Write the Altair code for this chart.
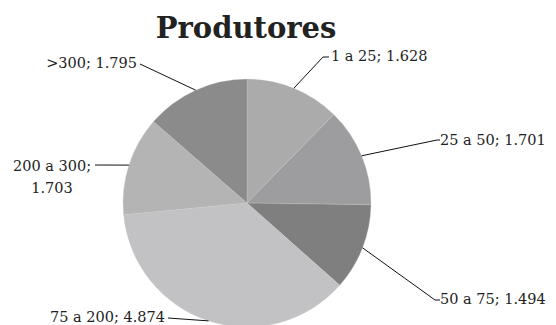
import altair as alt
import pandas as pd

# ---- data ----
categories = ["1 a 25", "25 a 50", "50 a 75", "75 a 200", "200 a 300", ">300"]
values = [1628, 1701, 1494, 4874, 1703, 1795]
value_labels = ["1.628", "1.701", "1.494", "4.874", "1.703", "1.795"]

# ---- styles / layout ----
colors = ["#ababab", "#9d9d9f", "#7f7f7f", "#c2c2c4", "#b4b4b4", "#8b8b8b"]
CX, CY, R = 239, 150, 124
elbow_x = [315, 429, 427, 160, 87, 132]
elbow_y = [4, 87, 247, 265, 112, 11]
text_x = [323, 432, 432, 157, 44, 129]
text_y = [4, 88, 247, 265, 114, 11]
text_align = ["left", "left", "left", "right", "center", "right"]
hook_x = [321, 432, 432, 160, 87, 132]

label_text = []
for c, v in zip(categories, value_labels):
    if c == "200 a 300":
        label_text.append(f"{c};\n{v}")
    else:
        label_text.append(f"{c}; {v}")

df = pd.DataFrame({
    "cat": categories,
    "val": values,
    "ord": list(range(len(categories))),
    "label": label_text,
    "elbow_x": elbow_x,
    "elbow_y": elbow_y,
    "hook_x": hook_x,
    "text_x": text_x,
    "text_y": text_y,
    "align": text_align,
})

base = alt.Chart(df)

pie = base.mark_arc(radius=R, stroke="#d0d0d0", strokeWidth=0.3).encode(
    theta=alt.Theta("val:Q", stack=True),
    order=alt.Order("ord:Q"),
    color=alt.Color("cat:N", scale=alt.Scale(domain=categories, range=colors), legend=None),
    x=alt.value(CX),
    y=alt.value(CY),
)

geo = base.transform_joinaggregate(total="sum(val)").transform_window(
    cum="sum(val)", sort=[alt.SortField("ord")], frame=[None, 0]
).transform_calculate(
    mid="(datum.cum - datum.val/2)/datum.total*2*PI",
).transform_calculate(
    ex=f"{CX} + {R}*sin(datum.mid)",
    ey=f"{CY} - {R}*cos(datum.mid)",
)

leader = geo.mark_rule(color="#111", strokeWidth=1).encode(
    x=alt.X("ex:Q", scale=None),
    y=alt.Y("ey:Q", scale=None),
    x2="elbow_x:Q",
    y2="elbow_y:Q",
)

hook = base.mark_rule(color="#111", strokeWidth=1).encode(
    x=alt.X("elbow_x:Q", scale=None),
    y=alt.Y("elbow_y:Q", scale=None),
    x2="hook_x:Q",
)

def text_layer(align):
    return base.transform_filter(f"datum.align == '{align}'").mark_text(
        font="DejaVu Serif", fontSize=14.5, color="#222", align=align,
        baseline="middle", lineBreak="\n", lineHeight=22,
    ).encode(
        x=alt.X("text_x:Q", scale=None),
        y=alt.Y("text_y:Q", scale=None),
        text="label:N",
    )

chart = alt.layer(
    pie, leader, hook, text_layer("left"), text_layer("right"), text_layer("center")
).properties(
    width=540,
    height=272,
    padding={"left": 0, "top": 45, "right": 0, "bottom": 0},
    autosize=alt.AutoSizeParams(type="none"),
    title=alt.Title("Produtores", font="DejaVu Serif", fontSize=29, fontWeight="bold",
                    color="#222", anchor="middle", dx=-32, offset=5),
).configure_view(stroke=None)

chart.save("out.html", embed_options={"renderer": "svg", "actions": False})
